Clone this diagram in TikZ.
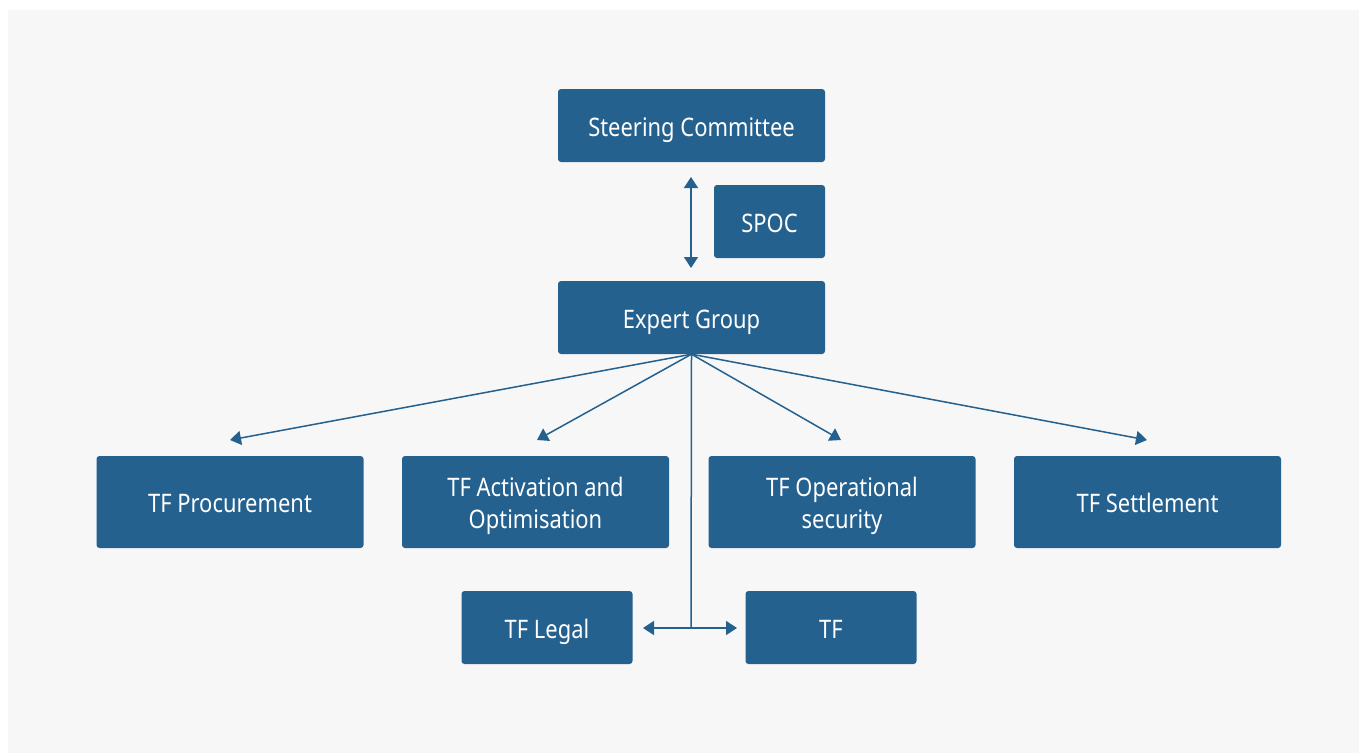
\documentclass[tikz,border=0pt]{standalone}
\usepackage{fontspec}
\setmainfont{Noto Sans}[FakeStretch=0.86]
\usetikzlibrary{arrows.meta}
\definecolor{boxblue}{HTML}{24618F}
\definecolor{bggrey}{HTML}{F7F7F7}
\tikzset{
  box/.style={draw=none, fill=boxblue, rounded corners=3pt, text=white,
    font=\fontsize{25.5}{32}\selectfont, align=center, inner sep=0pt,
    text height=21pt, text depth=0pt},
  wide/.style={box, minimum width=267pt, minimum height=73pt},
  tfbox/.style={box, minimum width=267pt, minimum height=92pt},
  twoline/.style={text height=53pt},
  small/.style={box, minimum width=171pt, minimum height=73pt},
  conn/.style={draw=boxblue, line width=1.5pt, -{Triangle[length=11pt,width=14pt]}},
  conn2/.style={draw=boxblue, line width=1.5pt, {Triangle[length=11pt,width=14pt]}-{Triangle[length=11pt,width=14pt]}}
}
\begin{document}
\begin{tikzpicture}[x=1pt,y=-1pt]
\useasboundingbox (0,0) rectangle (1359,753);
\fill[white] (0,0) rectangle (1359,753);
\fill[bggrey] (8,10) rectangle (1359,753);

\node[wide] (sc) at (691.5,125.5) {Steering Committee};
\node[box, minimum width=111pt, minimum height=73pt] (spoc) at (769.5,221.5) {SPOC};
\node[wide] (eg) at (691.5,317.5) {Expert Group};

\node[tfbox] (proc) at (230,502) {TF Procurement};
\node[tfbox, twoline] (act) at (535.5,502) {TF Activation and\\Optimisation};
\node[tfbox, twoline] (ops) at (842,502) {TF Operational\\security};
\node[tfbox] (sett) at (1147.5,502) {TF Settlement};

\node[small] (legal) at (547,627.5) {TF Legal};
\node[small] (tf) at (831,627.5) {TF};

\coordinate (v1) at (691,177);
\coordinate (v2) at (691,268);
\draw[conn2] (v1) -- (v2);

\coordinate (t1) at (230,440);
\coordinate (t2) at (537,440);
\coordinate (t3) at (841,440);
\coordinate (t4) at (1147,440);
\draw[conn] (eg.south) -- (t1);
\draw[conn] (eg.south) -- (t2);
\draw[conn] (eg.south) -- (t3);
\draw[conn] (eg.south) -- (t4);

\coordinate (j) at (691,628);
\coordinate (hl) at (643,628);
\coordinate (hr) at (737,628);
\draw[draw=boxblue, line width=1.5pt] (eg.south) -- (j);
\draw[conn2] (hl) -- (hr);
\end{tikzpicture}
\end{document}
